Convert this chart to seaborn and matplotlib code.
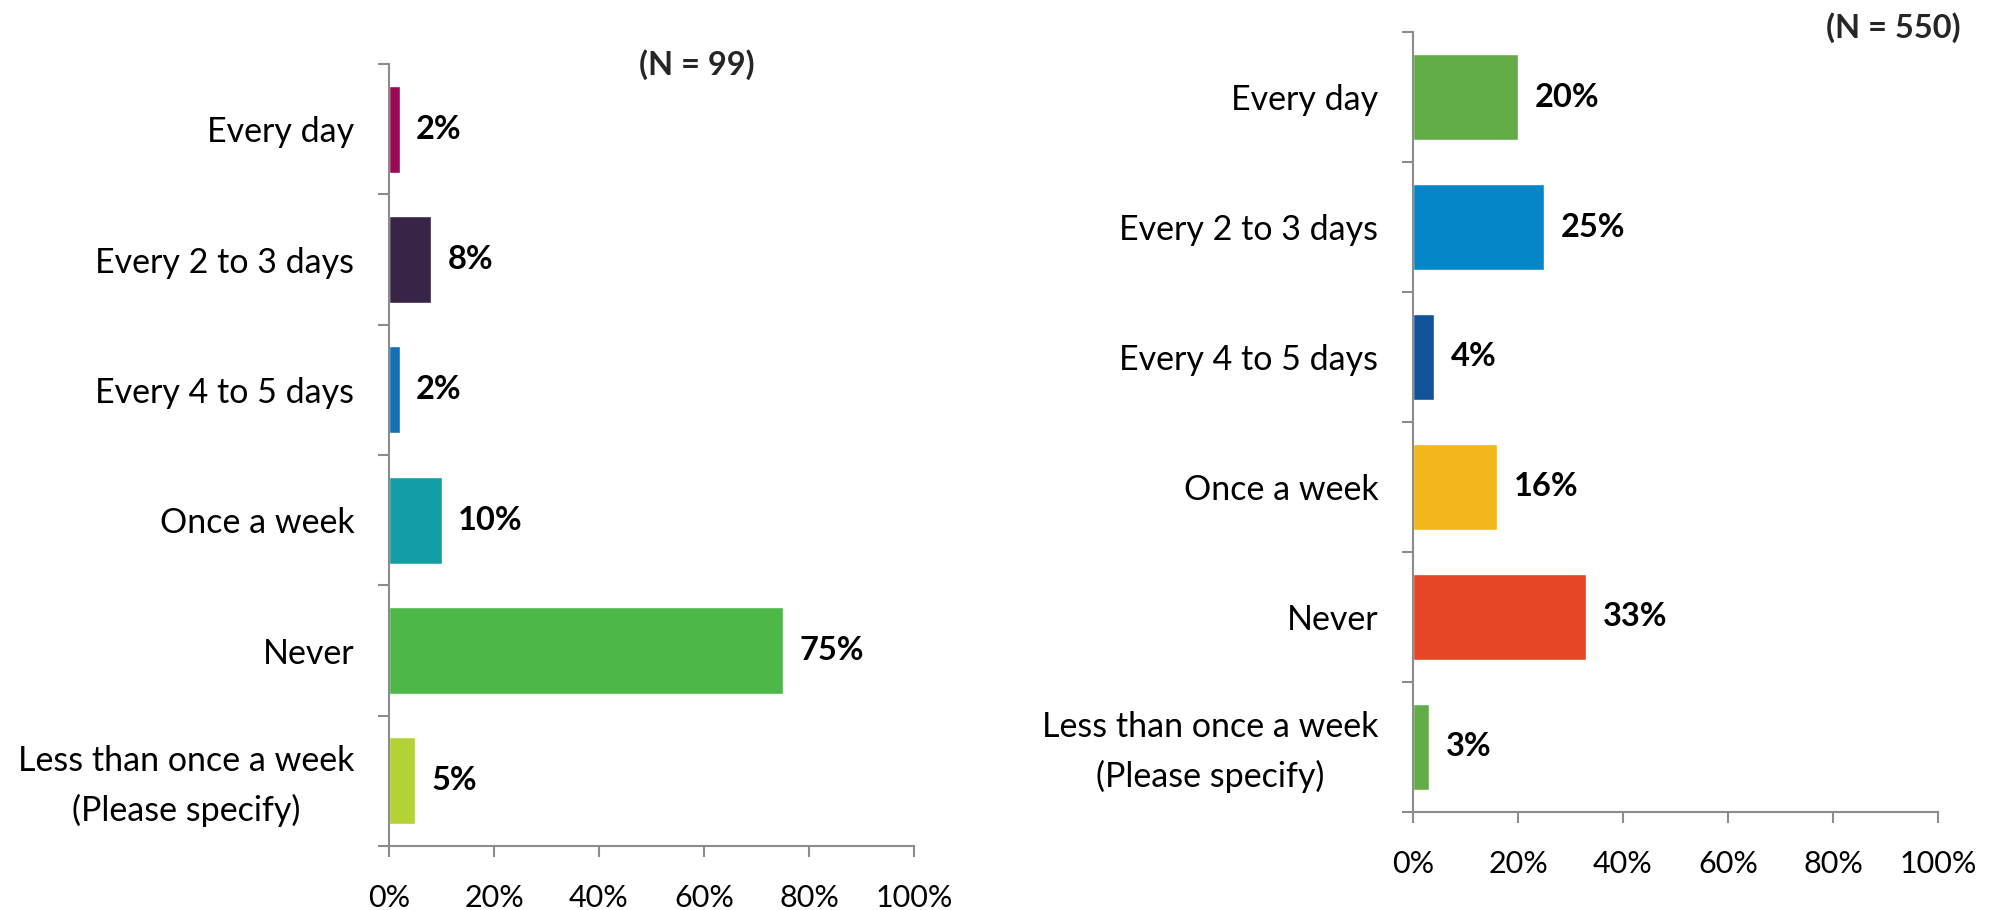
import numpy as np
import pandas as pd
import matplotlib
matplotlib.use("Agg")
import matplotlib.pyplot as plt
import matplotlib.transforms as mtransforms
import seaborn as sns

categories = ["Every day", "Every 2 to 3 days", "Every 4 to 5 days", "Once a week",
              "Never", "Less than once a week\n(Please specify)"]
left_values = [2, 8, 2, 10, 75, 5]
right_values = [20, 25, 4, 16, 33, 3]
left_n = "(N = 99)"
right_n = "(N = 550)"
left_colors = ["#9B0A56", "#372447", "#1270B7", "#139EA6", "#4DB748", "#B2D236"]
right_colors = ["#63AD46", "#0586C8", "#11549A", "#F2B71D", "#E64626", "#63AD46"]
xticks = [0, 20, 40, 60, 80, 100]
xtick_labels = ["0%", "20%", "40%", "60%", "80%", "100%"]

sns.set_theme(style="white")
plt.rcParams['font.family'] = ['Lato', 'DejaVu Sans']

fig = plt.figure(figsize=(19.97, 9.10), dpi=100)
ax_l = fig.add_axes([389/1997, 1-846/910, 525/1997, 782/910])
ax_r = fig.add_axes([1413/1997, 1-812/910, 525/1997, 780/910])

GRAY = "#8C8C8C"
FS_TICK = 22
FS_CAT = 24.5
FS_VAL = 23.5

def draw(ax, values, colors, ntext, nx, ny):
    df = pd.DataFrame({"cat": categories, "val": values})
    sns.barplot(data=df, y="cat", x="val", hue="cat", palette=colors, orient="h",
                width=0.667, legend=False, saturation=1, ax=ax)
    ax.set_xlim(0, 100)
    ax.set_ylim(5.5, -0.5)
    ax.set_xlabel("")
    ax.set_ylabel("")
    for s in ["top", "right"]:
        ax.spines[s].set_visible(False)
    for s in ["left", "bottom"]:
        ax.spines[s].set_color(GRAY)
        ax.spines[s].set_linewidth(1.5)
    ax.set_xticks(xticks)
    ax.set_xticklabels(xtick_labels, fontsize=FS_TICK)
    ax.tick_params(axis="x", direction="out", length=8, width=1.5, color=GRAY,
                   pad=19.5, labelcolor="black", bottom=True)
    ax.set_yticks(range(len(categories)))
    ax.tick_params(axis="y", which="major", length=0, pad=25, labelcolor="black", left=False)
    ax.set_yticks(np.arange(-0.5, len(categories), 1.0), minor=True)
    ax.tick_params(axis="y", which="minor", direction="out", length=8, width=1.5,
                   color=GRAY, left=True)
    ax.set_yticklabels(categories, fontsize=FS_CAT, multialignment="center")
    for t in ax.get_yticklabels():
        t.set_linespacing(1.62)
    last = ax.get_yticklabels()[-1]
    last.set_transform(last.get_transform() +
                       mtransforms.ScaledTranslation(0, 6/100, fig.dpi_scale_trans))
    for c in ax.containers:
        ax.bar_label(c, labels=[f"{v:.0f}%" for v in c.datavalues], padding=12,
                     fontsize=FS_VAL, fontweight="bold", color="black")
    fig.text(nx, ny, ntext, fontsize=23.5, fontweight="bold", ha="center", va="center")

draw(ax_l, left_values, left_colors, left_n, 697/1997, 1-65/910)
draw(ax_r, right_values, right_colors, right_n, 1893/1997, 1-28/910)

fig.savefig("out.png", dpi=100)
